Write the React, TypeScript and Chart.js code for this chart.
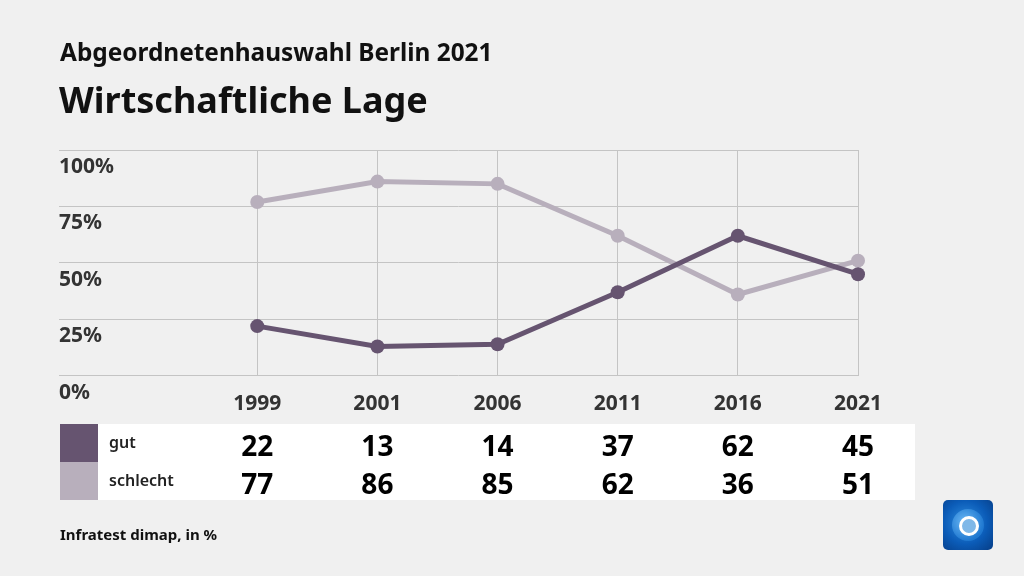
import React, { useEffect, useRef, useState } from "react";
import { Chart, registerables } from "chart.js";

Chart.register(...registerables);

const years = ["1999", "2001", "2006", "2011", "2016", "2021"];
const gut = [22, 13, 14, 37, 62, 45];
const schlecht = [77, 86, 85, 62, 36, 51];
const yTicks = [0, 25, 50, 75, 100];
const seriesNames = ["gut", "schlecht"];
const seriesColors = ["#665470", "#b8afbc"];
const seriesValues = [gut, schlecht];

const FONT = "'Noto Sans', 'Open Sans', sans-serif";

export default function App() {
  const ref = useRef<HTMLCanvasElement | null>(null);
  const [cols, setCols] = useState<number[]>([257, 377, 497, 618, 738, 858]);

  useEffect(() => {
    if (!ref.current) return;
    const chart = new Chart(ref.current, {
      type: "line",
      data: {
        datasets: seriesNames.map((name, si) => ({
          label: name,
          data: years.map((_, i) => ({ x: i, y: seriesValues[si][i] })),
          borderColor: seriesColors[si],
          backgroundColor: seriesColors[si],
          pointBackgroundColor: seriesColors[si],
          pointBorderColor: seriesColors[si],
          borderWidth: 5,
          pointRadius: 7,
          pointHoverRadius: 7,
          pointBorderWidth: 0,
          tension: 0,
          clip: false as any,
        })),
      },
      options: {
        responsive: false,
        animation: false,
        events: [],
        layout: { padding: { left: 59, top: 150, right: 166, bottom: 143 } },
        plugins: { legend: { display: false }, tooltip: { enabled: false } },
        scales: {
          x: {
            type: "linear",
            min: -1.65,
            max: 5,
            afterBuildTicks: (s: any) => {
              s.ticks = years.map((_, i) => ({ value: i }));
            },
            ticks: {
              autoSkip: false,
              maxRotation: 0,
              padding: 16,
              color: "#333333",
              font: { family: FONT, size: 21, weight: "bold" },
              callback: (v: any) => years[v as number],
            },
            grid: { color: "#c4c4c4", drawTicks: false, lineWidth: 1 },
            border: { display: false },
          },
          y: {
            min: 0,
            max: 100,
            afterBuildTicks: (s: any) => {
              s.ticks = yTicks.map((v) => ({ value: v }));
            },
            ticks: {
              mirror: true,
              padding: 0,
              labelOffset: 17,
              color: "#333333",
              font: { family: FONT, size: 21, weight: "bold" },
              callback: (v: any) => v + "%",
            },
            grid: { color: "#c4c4c4", drawTicks: false, lineWidth: 1 },
            border: { display: false },
          },
        },
      },
    } as any);
    const xs = chart.scales.x;
    setCols(years.map((_, i) => xs.getPixelForValue(i)));
    return () => chart.destroy();
  }, []);

  return (
    <div
      style={{
        position: "fixed",
        left: 0,
        top: 0,
        width: 1024,
        height: 576,
        background: "#f0f0f0",
        overflow: "hidden",
        fontFamily: FONT,
      }}
    >
      <canvas
        ref={ref}
        width={1024}
        height={576}
        style={{ position: "absolute", left: 0, top: 0, width: 1024, height: 576 }}
      />
      <div
        style={{
          position: "absolute",
          left: 60,
          top: 35,
          fontSize: 24.4,
          fontWeight: 700,
          color: "#111",
          whiteSpace: "nowrap",
        }}
      >
        Abgeordnetenhauswahl Berlin 2021
      </div>
      <div
        style={{
          position: "absolute",
          left: 59,
          top: 75,
          fontSize: 36,
          fontWeight: 700,
          color: "#111",
          whiteSpace: "nowrap",
        }}
      >
        Wirtschaftliche Lage
      </div>

      {/* value table */}
      <div
        style={{
          position: "absolute",
          left: 98,
          top: 424,
          width: 817,
          height: 76,
          background: "#ffffff",
        }}
      />
      {seriesNames.map((name, si) => (
        <React.Fragment key={name}>
          <div
            style={{
              position: "absolute",
              left: 60,
              top: 424 + si * 38,
              width: 38,
              height: 38,
              background: seriesColors[si],
            }}
          />
          <div
            style={{
              position: "absolute",
              left: 109,
              top: 424 + si * 38,
              height: 38,
              lineHeight: "36px",
              fontSize: 16,
              fontWeight: 600,
              color: "#222",
              whiteSpace: "nowrap",
            }}
          >
            {name}
          </div>
          {seriesValues[si].map((v, i) => (
            <div
              key={i}
              style={{
                position: "absolute",
                left: cols[i] - 40,
                width: 80,
                top: 424 + si * 38,
                height: 38,
                lineHeight: "42px",
                textAlign: "center",
                fontSize: 28,
                fontWeight: 700,
                color: "#000",
              }}
            >
              {v}
            </div>
          ))}
        </React.Fragment>
      ))}

      <div
        style={{
          position: "absolute",
          left: 60,
          top: 524,
          fontSize: 15,
          fontWeight: 700,
          color: "#111",
          whiteSpace: "nowrap",
        }}
      >
        Infratest dimap, in %
      </div>

      {/* logo */}
      <div
        style={{
          position: "absolute",
          left: 943,
          top: 500,
          width: 50,
          height: 50,
          borderRadius: 5,
          background: "radial-gradient(circle at 45% 45%, #2f8ee0 0%, #0b5cb8 55%, #063d86 100%)",
        }}
      >
        <div
          style={{
            position: "absolute",
            left: 9,
            top: 9,
            width: 32,
            height: 32,
            borderRadius: "50%",
            background: "radial-gradient(circle at 40% 40%, #6ab8f5 0%, #1f78d0 70%)",
          }}
        />
        <div
          style={{
            position: "absolute",
            left: 16,
            top: 16,
            width: 14,
            height: 14,
            borderRadius: "50%",
            border: "3px solid #ffffff",
            background: "#7fb8e8",
          }}
        />
      </div>
    </div>
  );
}
